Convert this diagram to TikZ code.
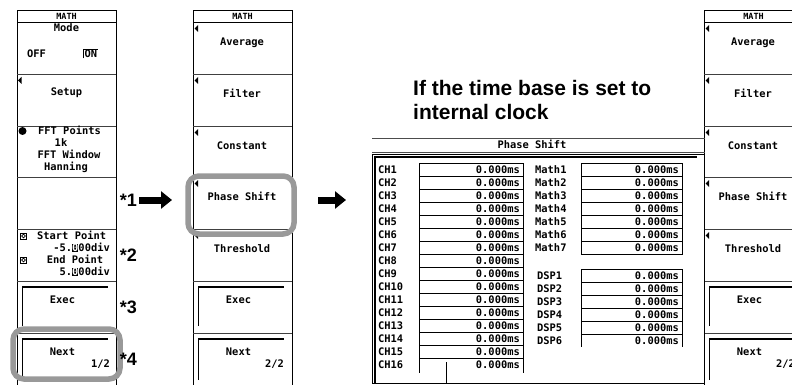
\documentclass[tikz,border=0pt]{standalone}
\usepackage{fontspec}
\setmainfont{Liberation Sans}
\setsansfont{Liberation Sans}
\setmonofont{DejaVu Sans Mono}
\usetikzlibrary{arrows.meta,positioning,calc}

\begin{document}
\begin{tikzpicture}[x=1pt,y=-1pt,
  lcd/.style={font=\ttfamily\bfseries\fontsize{10.4}{12}\selectfont, inner sep=0pt, text height=7.7pt, text depth=0pt},
  hdr/.style={font=\ttfamily\bfseries\fontsize{8.5}{9}\selectfont, inner sep=0pt, text height=6.2pt, text depth=0pt},
  note/.style={font=\sffamily\bfseries\fontsize{18}{20}\selectfont, inner sep=0pt},
  head/.style={font=\sffamily\bfseries\fontsize{21}{24}\selectfont, inner sep=0pt, align=left},
  pane/.style={draw, line width=0.9pt},
  divider/.style={draw=black!75, line width=0.8pt},
  keyedge/.style={line width=1.8pt},
  hilite/.style={draw=black!40, line width=5.5pt, rounded corners=11pt},
  bigarr/.style={line width=7pt, -{Triangle[length=11pt,width=17pt]}},
  cell/.style={line width=0.7pt}
]
\useasboundingbox (0,0) rectangle (792,385);
\clip (0,0) rectangle (792,385);

% menu panels
\foreach \px in {17,193,704}{
  \draw[pane] (\px,10) rectangle (\px+99,392);
  \draw[pane] (\px,22) -- (\px+99,22);
  \foreach \t in {74,126,177,229,281,333}
    \draw[divider] (\px,\t) -- (\px+99,\t);
  \node[hdr] (hd\px) at (\px+49.5,16) {MATH};
  \draw[keyedge] (\px+5.5,326) -- (\px+5.5,287) -- (\px+91,287);
  \draw[keyedge] (\px+5.5,380) -- (\px+5.5,339) -- (\px+91,339);
  \node[lcd] (ex\px) at (\px+45.5,300) {Exec};
  \node[lcd] (nx\px) at (\px+45.5,352) {Next};
}

% second page of the menu
\foreach \px in {193,704}{
  \foreach \t/\lab in {22/Average,74/Filter,126/Constant,177/Phase Shift,229/Threshold}{
    \fill (\px+1.5,\t+6.5) -- (\px+5,\t+3) -- (\px+5,\t+10) -- cycle;
    \node[lcd] (s\px-\t) at (\px+49,\t+20) {\lab};
  }
  \node[lcd, anchor=east] (pg\px) at (\px+91,364) {2/2};
}

% first page of the menu
\node[lcd] (mode) at (66.5,28) {Mode};
\node[lcd, anchor=west] (off) at (27,54) {OFF};
\node[lcd, anchor=west] (on) at (84.5,54) {ON};
\draw[line width=0.9pt] (83.5,58.5) |- (97.5,49.5);
\fill (18,80.5) -- (21.5,77) -- (21.5,84) -- cycle;
\node[lcd] (setup) at (66.5,92) {Setup};
\fill (22.5,131) circle (4);
\node[lcd, anchor=west] (fftp) at (38,131) {FFT Points};
\node[lcd] (npts) at (61,143) {1k};
\node[lcd] (fftw) at (69,155) {FFT Window};
\node[lcd] (win) at (66,167) {Hanning};
\draw[line width=0.7pt] (20.5,233) rectangle (26.5,239);
\draw[line width=0.7pt] (23.5,236) circle (1.8);
\node[lcd, anchor=west] (stp) at (37,236) {Start Point};
\node[lcd, anchor=east] (stv) at (110,248) {-5.{\fboxsep0pt\colorbox{black}{\color{white}0}}00div};
\draw[line width=0.7pt] (20.5,257) rectangle (26.5,263);
\draw[line width=0.7pt] (23.5,260) circle (1.8);
\node[lcd] (enp) at (75,260) {End Point};
\node[lcd, anchor=east] (env) at (110,272) {5.{\fboxsep0pt\colorbox{black}{\color{white}0}}00div};
\node[lcd, anchor=east] (pg17) at (110,364) {1/2};

% highlights
\draw[hilite] (188,176) rectangle (294,234);
\draw[hilite] (13,329) rectangle (120,379);

% notes and arrows
\node[note] (n1) at (128.5,200) {*1};
\node[note] (n2) at (128.5,255) {*2};
\node[note] (n3) at (128.5,307) {*3};
\node[note] (n4) at (128.5,359) {*4};
\coordinate (a1) at (139,200);
\coordinate (b1) at (172,200);
\coordinate (a2) at (318,200);
\coordinate (b2) at (346,200);
\draw[bigarr] (a1) -- (b1);
\draw[bigarr] (a2) -- (b2);

\node[head, anchor=north west] (cond) at (413,80) {If the time base is set to\\internal clock};

% phase shift window
\draw[line width=0.8pt, black!70] (372,138.5) -- (705,138.5) (372,152) -- (705,152);
\node[lcd] (ttl) at (532,145) {Phase Shift};
\draw[line width=0.8pt] (372,154.5) rectangle (704,383);
\draw[line width=2pt] (374.5,383) -- (374.5,157) -- (697,157);

\foreach \i in {1,...,16}{
  \node[lcd, anchor=west] (ch\i) at (378,{169.5+13*(\i-1)}) {CH\i};
  \node[lcd, anchor=east] (chv\i) at (520,{169.5+13*(\i-1)}) {0.000ms};
  \draw[cell] (419,{163+13*(\i-1)}) -- (523,{163+13*(\i-1)});
}
\draw[cell] (419,163) -- (419,373) (523,163) -- (523,373);
\draw[cell] (446,362) -- (446,383);

\foreach \i in {1,...,7}{
  \node[lcd, anchor=west] (m\i) at (535,{169.5+13*(\i-1)}) {Math\i};
  \node[lcd, anchor=east] (mv\i) at (679,{169.5+13*(\i-1)}) {0.000ms};
  \draw[cell] (581,{163+13*(\i-1)}) -- (682,{163+13*(\i-1)});
}
\draw[cell] (581,163) rectangle (682,254);

\foreach \i in {1,...,6}{
  \node[lcd, anchor=west] (d\i) at (537,{275.5+13*(\i-1)}) {DSP\i};
  \node[lcd, anchor=east] (dv\i) at (679,{275.5+13*(\i-1)}) {0.000ms};
  \draw[cell] (581,{269+13*(\i-1)}) -- (682,{269+13*(\i-1)});
}
\draw[cell] (581,269) -- (581,347) (682,269) -- (682,347);
\end{tikzpicture}
\end{document}
